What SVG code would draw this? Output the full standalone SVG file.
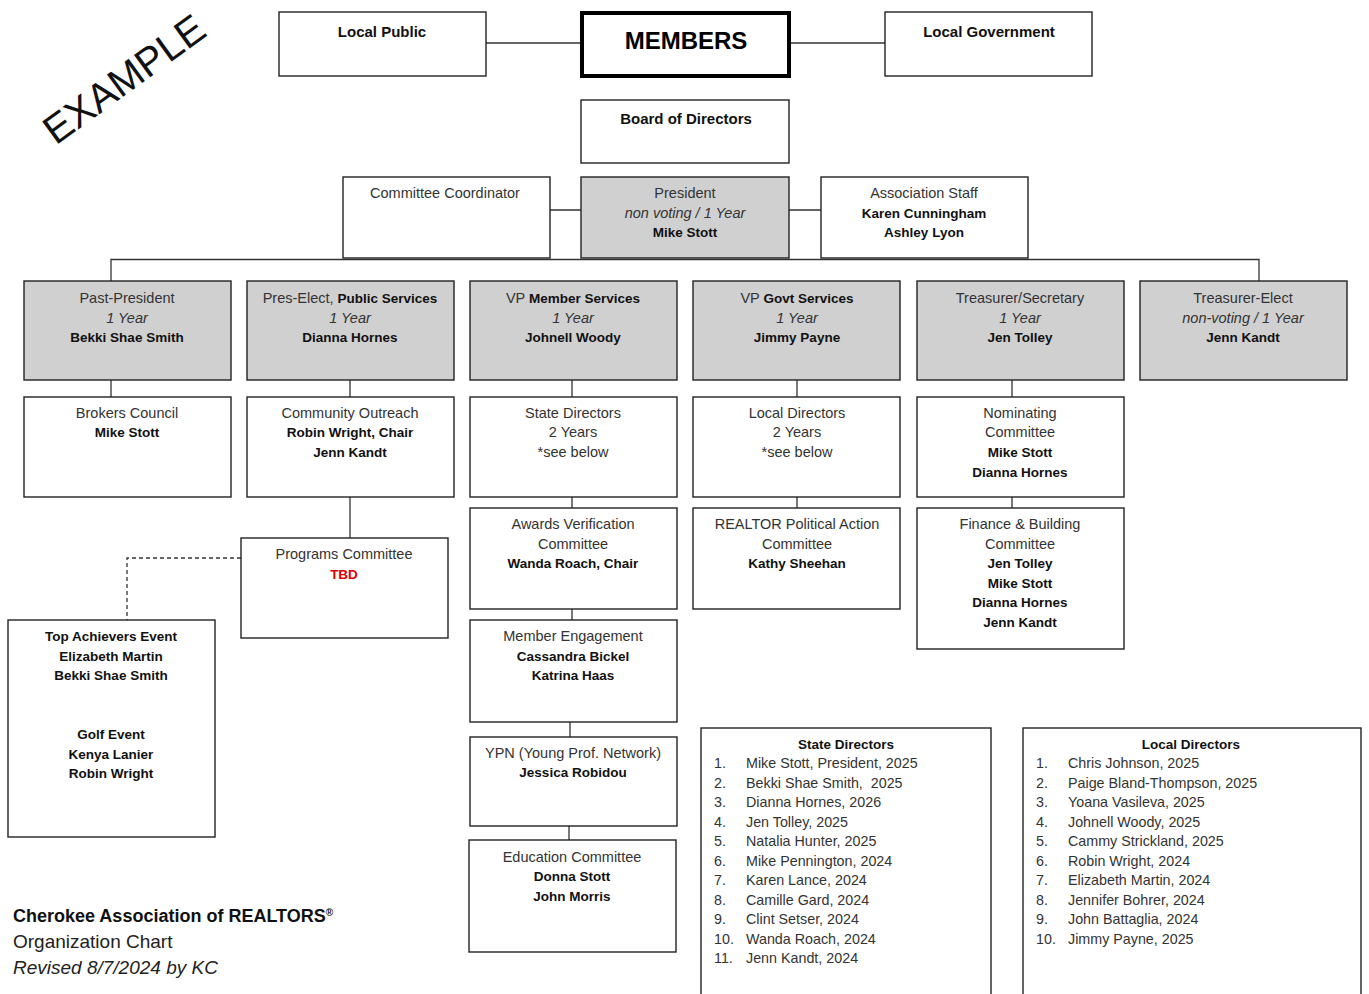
<svg xmlns="http://www.w3.org/2000/svg" width="1369" height="994" viewBox="0 0 1369 994">
<style>
.box{fill:#fff;stroke:#222;stroke-width:1.4}
.gray{fill:#d0d0d0}
.t{font-family:'Liberation Sans',Arial,sans-serif;font-size:14.5px;fill:#333;text-anchor:middle}
.b{font-weight:bold;fill:#111;font-size:13.5px}
.i{font-style:italic}
.ln{stroke:#333;stroke-width:1.3;fill:none}
.dash{stroke:#333;stroke-width:1.3;fill:none;stroke-dasharray:4 3}
.l{font-family:'Liberation Sans',Arial,sans-serif;font-size:14.3px;fill:#333}
</style>
<rect width="1369" height="994" fill="#fff"/>
<text x="124" y="93" transform="rotate(-36 124 79)" style="font-family:'Liberation Sans',Arial,sans-serif;font-size:40px;fill:#111;text-anchor:middle">EXAMPLE</text>

<g id="connectors">
<path class="ln" d="M486,43H581M790,43H885M550,210H581M789,210H821"/>
<path class="ln" d="M111,281V259.5H1259V281"/>
<path class="ln" d="M111,380V397M350,380V397M572,380V397M797,380V397M1012,380V397"/>
<path class="ln" d="M572,497V508M797,497V508M1012,497V508M350,497V538"/>
<path class="ln" d="M572,609V620M570,722V737M569,826V840"/>
<path class="dash" d="M241,558H127V620"/>
</g>

<g id="local-public"><rect class="box" x="279" y="12" width="207" height="64"/><text class="t b" x="382" y="37" style="font-size:15px">Local Public</text></g>
<g id="members"><rect class="box" x="582" y="13" width="207" height="63" style="stroke-width:4;stroke:#000"/><text class="t b" x="686" y="49" style="font-size:24px;fill:#000">MEMBERS</text></g>
<g id="local-government"><rect class="box" x="885" y="12" width="207" height="64"/><text class="t b" x="989" y="37" style="font-size:15px">Local Government</text></g>
<g id="board"><rect class="box" x="581" y="100" width="208" height="63"/><text class="t b" x="686" y="124" style="font-size:15px">Board of Directors</text></g>
<g id="committee-coordinator"><rect class="box" x="343" y="177" width="207" height="81"/><text class="t" x="445" y="198">Committee Coordinator</text></g>
<g id="president"><rect class="box gray" x="581" y="177" width="208" height="81"/><text class="t" x="685" y="198">President</text><text class="t i" x="685" y="218">non voting / 1 Year</text><text class="t b" x="685" y="237">Mike Stott</text></g>
<g id="association-staff"><rect class="box" x="821" y="177" width="207" height="81"/><text class="t" x="924" y="198">Association Staff</text><text class="t b" x="924" y="218">Karen Cunningham</text><text class="t b" x="924" y="237">Ashley Lyon</text></g>

<g id="past-president"><rect class="box gray" x="24" y="281" width="207" height="99"/><text class="t" x="127" y="303">Past-President</text><text class="t i" x="127" y="323">1 Year</text><text class="t b" x="127" y="342">Bekki Shae Smith</text></g>
<g id="pres-elect"><rect class="box gray" x="247" y="281" width="207" height="99"/><text class="t" x="350" y="303">Pres-Elect, <tspan class="b">Public Services</tspan></text><text class="t i" x="350" y="323">1 Year</text><text class="t b" x="350" y="342">Dianna Hornes</text></g>
<g id="vp-member-services"><rect class="box gray" x="470" y="281" width="207" height="99"/><text class="t" x="573" y="303">VP <tspan class="b">Member Services</tspan></text><text class="t i" x="573" y="323">1 Year</text><text class="t b" x="573" y="342">Johnell Woody</text></g>
<g id="vp-govt-services"><rect class="box gray" x="693" y="281" width="207" height="99"/><text class="t" x="797" y="303">VP <tspan class="b">Govt Services</tspan></text><text class="t i" x="797" y="323">1 Year</text><text class="t b" x="797" y="342">Jimmy Payne</text></g>
<g id="treasurer-secretary"><rect class="box gray" x="917" y="281" width="207" height="99"/><text class="t" x="1020" y="303">Treasurer/Secretary</text><text class="t i" x="1020" y="323">1 Year</text><text class="t b" x="1020" y="342">Jen Tolley</text></g>
<g id="treasurer-elect"><rect class="box gray" x="1140" y="281" width="207" height="99"/><text class="t" x="1243" y="303">Treasurer-Elect</text><text class="t i" x="1243" y="323">non-voting / 1 Year</text><text class="t b" x="1243" y="342">Jenn Kandt</text></g>

<g id="brokers-council"><rect class="box" x="24" y="397" width="207" height="100"/><text class="t" x="127" y="418">Brokers Council</text><text class="t b" x="127" y="437">Mike Stott</text></g>
<g id="community-outreach"><rect class="box" x="247" y="397" width="207" height="100"/><text class="t" x="350" y="418">Community Outreach</text><text class="t b" x="350" y="437">Robin Wright, Chair</text><text class="t b" x="350" y="457">Jenn Kandt</text></g>
<g id="state-directors"><rect class="box" x="470" y="397" width="207" height="100"/><text class="t" x="573" y="418">State Directors</text><text class="t" x="573" y="437">2 Years</text><text class="t" x="573" y="457">*see below</text></g>
<g id="local-directors"><rect class="box" x="693" y="397" width="207" height="100"/><text class="t" x="797" y="418">Local Directors</text><text class="t" x="797" y="437">2 Years</text><text class="t" x="797" y="457">*see below</text></g>
<g id="nominating-committee"><rect class="box" x="917" y="397" width="207" height="100"/><text class="t" x="1020" y="418">Nominating</text><text class="t" x="1020" y="437">Committee</text><text class="t b" x="1020" y="457">Mike Stott</text><text class="t b" x="1020" y="477">Dianna Hornes</text></g>

<g id="awards-verification"><rect class="box" x="470" y="508" width="207" height="101"/><text class="t" x="573" y="529">Awards Verification</text><text class="t" x="573" y="549">Committee</text><text class="t b" x="573" y="568">Wanda Roach, Chair</text></g>
<g id="realtor-pac"><rect class="box" x="693" y="508" width="207" height="101"/><text class="t" x="797" y="529">REALTOR Political Action</text><text class="t" x="797" y="549">Committee</text><text class="t b" x="797" y="568">Kathy Sheehan</text></g>
<g id="finance-building"><rect class="box" x="917" y="508" width="207" height="141"/><text class="t" x="1020" y="529">Finance &amp; Building</text><text class="t" x="1020" y="549">Committee</text><text class="t b" x="1020" y="568">Jen Tolley</text><text class="t b" x="1020" y="588">Mike Stott</text><text class="t b" x="1020" y="607">Dianna Hornes</text><text class="t b" x="1020" y="627">Jenn Kandt</text></g>
<g id="programs-committee"><rect class="box" x="241" y="538" width="207" height="100"/><text class="t" x="344" y="559">Programs Committee</text><text class="t b" x="344" y="579" style="fill:#e00000">TBD</text></g>
<g id="top-achievers"><rect class="box" x="8" y="620" width="207" height="217"/><text class="t b" x="111" y="641">Top Achievers Event</text><text class="t b" x="111" y="661">Elizabeth Martin</text><text class="t b" x="111" y="680">Bekki Shae Smith</text><text class="t b" x="111" y="739">Golf Event</text><text class="t b" x="111" y="759">Kenya Lanier</text><text class="t b" x="111" y="778">Robin Wright</text></g>
<g id="member-engagement"><rect class="box" x="470" y="620" width="207" height="102"/><text class="t" x="573" y="641">Member Engagement</text><text class="t b" x="573" y="661">Cassandra Bickel</text><text class="t b" x="573" y="680">Katrina Haas</text></g>
<g id="ypn"><rect class="box" x="470" y="737" width="207" height="89"/><text class="t" x="573" y="758">YPN (Young Prof. Network)</text><text class="t b" x="573" y="777">Jessica Robidou</text></g>
<g id="education-committee"><rect class="box" x="469" y="840" width="207" height="112"/><text class="t" x="572" y="862">Education Committee</text><text class="t b" x="572" y="881">Donna Stott</text><text class="t b" x="572" y="901">John Morris</text></g>

<g id="state-directors-list"><rect class="box" x="701" y="728" width="290" height="280"/>
<text class="t b" x="846" y="749">State Directors</text>
<g class="l">
<text x="714" y="768">1.</text><text x="746" y="768">Mike Stott, President, 2025</text>
<text x="714" y="788">2.</text><text x="746" y="788">Bekki Shae Smith,&#160; 2025</text>
<text x="714" y="807">3.</text><text x="746" y="807">Dianna Hornes, 2026</text>
<text x="714" y="827">4.</text><text x="746" y="827">Jen Tolley, 2025</text>
<text x="714" y="846">5.</text><text x="746" y="846">Natalia Hunter, 2025</text>
<text x="714" y="866">6.</text><text x="746" y="866">Mike Pennington, 2024</text>
<text x="714" y="885">7.</text><text x="746" y="885">Karen Lance, 2024</text>
<text x="714" y="905">8.</text><text x="746" y="905">Camille Gard, 2024</text>
<text x="714" y="924">9.</text><text x="746" y="924">Clint Setser, 2024</text>
<text x="714" y="944">10.</text><text x="746" y="944">Wanda Roach, 2024</text>
<text x="714" y="963">11.</text><text x="746" y="963">Jenn Kandt, 2024</text>
</g></g>
<g id="local-directors-list"><rect class="box" x="1023" y="728" width="338" height="280"/>
<text class="t b" x="1191" y="749">Local Directors</text>
<g class="l">
<text x="1036" y="768">1.</text><text x="1068" y="768">Chris Johnson, 2025</text>
<text x="1036" y="788">2.</text><text x="1068" y="788">Paige Bland-Thompson, 2025</text>
<text x="1036" y="807">3.</text><text x="1068" y="807">Yoana Vasileva, 2025</text>
<text x="1036" y="827">4.</text><text x="1068" y="827">Johnell Woody, 2025</text>
<text x="1036" y="846">5.</text><text x="1068" y="846">Cammy Strickland, 2025</text>
<text x="1036" y="866">6.</text><text x="1068" y="866">Robin Wright, 2024</text>
<text x="1036" y="885">7.</text><text x="1068" y="885">Elizabeth Martin, 2024</text>
<text x="1036" y="905">8.</text><text x="1068" y="905">Jennifer Bohrer, 2024</text>
<text x="1036" y="924">9.</text><text x="1068" y="924">John Battaglia, 2024</text>
<text x="1036" y="944">10.</text><text x="1068" y="944">Jimmy Payne, 2025</text>
</g></g>

<g id="footer" style="font-family:'Liberation Sans',Arial,sans-serif;fill:#111">
<text x="13" y="922" font-weight="bold" font-size="18">Cherokee Association of REALTORS<tspan font-size="10" dy="-6">®</tspan></text>
<text x="13" y="948" fill="#222" font-size="19">Organization Chart</text>
<text x="13" y="974" font-style="italic" fill="#222" font-size="19">Revised 8/7/2024 by KC</text>
</g>
</svg>
